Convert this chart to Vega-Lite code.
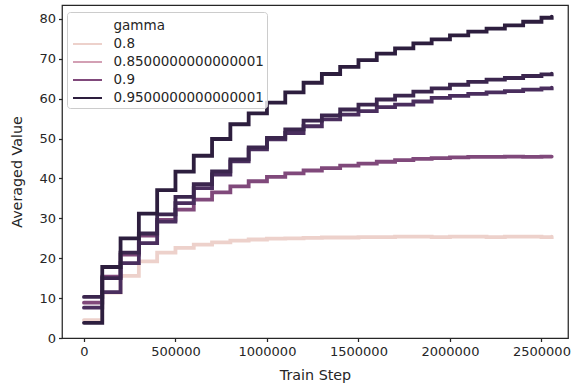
{
  "$schema": "https://vega.github.io/schema/vega-lite/v6.json",
  "autosize": "none",
  "width": 506,
  "height": 333,
  "padding": {"left": 62, "top": 5, "right": 3, "bottom": 49},
  "background": "white",
  "config": {
    "font": "DejaVu Sans",
    "view": {"stroke": "#262626", "strokeWidth": 1.25},
    "axis": {
      "domain": false, "grid": false, "tickColor": "#262626", "tickSize": 3.5, "tickWidth": 1.25,
      "labelColor": "#262626", "labelFontSize": 13, "labelPadding": 3, "titleColor": "#262626",
      "titleFontSize": 14.3, "titleFontWeight": "normal", "labelFont": "DejaVu Sans", "titleFont": "DejaVu Sans"
    }
  },
  "data": {
    "values": [
      {"gamma": 0.8, "step": 0, "value": 4.5}, {"gamma": 0.8, "step": 100000, "value": 11.4}, {"gamma": 0.8, "step": 200000, "value": 15.6}, {"gamma": 0.8, "step": 300000, "value": 19.2}, {"gamma": 0.8, "step": 400000, "value": 21.4}, {"gamma": 0.8, "step": 500000, "value": 22.6}, {"gamma": 0.8, "step": 600000, "value": 23.4}, {"gamma": 0.8, "step": 700000, "value": 24.0}, {"gamma": 0.8, "step": 800000, "value": 24.4}, {"gamma": 0.8, "step": 900000, "value": 24.7}, {"gamma": 0.8, "step": 1000000, "value": 24.9}, {"gamma": 0.8, "step": 1100000, "value": 25.0}, {"gamma": 0.8, "step": 1200000, "value": 25.1}, {"gamma": 0.8, "step": 1300000, "value": 25.2}, {"gamma": 0.8, "step": 1400000, "value": 25.2}, {"gamma": 0.8, "step": 1500000, "value": 25.3}, {"gamma": 0.8, "step": 1600000, "value": 25.3}, {"gamma": 0.8, "step": 1700000, "value": 25.4}, {"gamma": 0.8, "step": 1800000, "value": 25.4}, {"gamma": 0.8, "step": 1900000, "value": 25.3}, {"gamma": 0.8, "step": 2000000, "value": 25.4}, {"gamma": 0.8, "step": 2100000, "value": 25.4}, {"gamma": 0.8, "step": 2200000, "value": 25.3}, {"gamma": 0.8, "step": 2300000, "value": 25.4}, {"gamma": 0.8, "step": 2400000, "value": 25.4}, {"gamma": 0.8, "step": 2500000, "value": 25.3}, {"gamma": 0.8, "step": 2556000, "value": 25.4},
      {"gamma": 0.9, "step": 0, "value": 8.85}, {"gamma": 0.9, "step": 100000, "value": 15.4}, {"gamma": 0.9, "step": 200000, "value": 20.9}, {"gamma": 0.9, "step": 300000, "value": 25.7}, {"gamma": 0.9, "step": 400000, "value": 29.6}, {"gamma": 0.9, "step": 500000, "value": 32.2}, {"gamma": 0.9, "step": 600000, "value": 34.7}, {"gamma": 0.9, "step": 700000, "value": 36.5}, {"gamma": 0.9, "step": 800000, "value": 38.0}, {"gamma": 0.9, "step": 900000, "value": 39.3}, {"gamma": 0.9, "step": 1000000, "value": 40.4}, {"gamma": 0.9, "step": 1100000, "value": 41.3}, {"gamma": 0.9, "step": 1200000, "value": 42.0}, {"gamma": 0.9, "step": 1300000, "value": 42.6}, {"gamma": 0.9, "step": 1400000, "value": 43.2}, {"gamma": 0.9, "step": 1500000, "value": 43.7}, {"gamma": 0.9, "step": 1600000, "value": 44.2}, {"gamma": 0.9, "step": 1700000, "value": 44.6}, {"gamma": 0.9, "step": 1800000, "value": 44.9}, {"gamma": 0.9, "step": 1900000, "value": 45.1}, {"gamma": 0.9, "step": 2000000, "value": 45.3}, {"gamma": 0.9, "step": 2100000, "value": 45.4}, {"gamma": 0.9, "step": 2200000, "value": 45.4}, {"gamma": 0.9, "step": 2300000, "value": 45.5}, {"gamma": 0.9, "step": 2400000, "value": 45.4}, {"gamma": 0.9, "step": 2500000, "value": 45.5}, {"gamma": 0.9, "step": 2556000, "value": 45.5},
      {"gamma": 0.93, "step": 0, "value": 7.6}, {"gamma": 0.93, "step": 100000, "value": 11.5}, {"gamma": 0.93, "step": 200000, "value": 18.8}, {"gamma": 0.93, "step": 300000, "value": 23.8}, {"gamma": 0.93, "step": 400000, "value": 29.2}, {"gamma": 0.93, "step": 500000, "value": 33.8}, {"gamma": 0.93, "step": 600000, "value": 37.6}, {"gamma": 0.93, "step": 700000, "value": 41.0}, {"gamma": 0.93, "step": 800000, "value": 44.3}, {"gamma": 0.93, "step": 900000, "value": 47.3}, {"gamma": 0.93, "step": 1000000, "value": 49.8}, {"gamma": 0.93, "step": 1100000, "value": 51.4}, {"gamma": 0.93, "step": 1200000, "value": 53.1}, {"gamma": 0.93, "step": 1300000, "value": 54.8}, {"gamma": 0.93, "step": 1400000, "value": 56.0}, {"gamma": 0.93, "step": 1500000, "value": 56.9}, {"gamma": 0.93, "step": 1600000, "value": 57.9}, {"gamma": 0.93, "step": 1700000, "value": 58.5}, {"gamma": 0.93, "step": 1800000, "value": 59.3}, {"gamma": 0.93, "step": 1900000, "value": 60.2}, {"gamma": 0.93, "step": 2000000, "value": 60.7}, {"gamma": 0.93, "step": 2100000, "value": 61.2}, {"gamma": 0.93, "step": 2200000, "value": 61.6}, {"gamma": 0.93, "step": 2300000, "value": 61.9}, {"gamma": 0.93, "step": 2400000, "value": 62.3}, {"gamma": 0.93, "step": 2500000, "value": 62.6}, {"gamma": 0.93, "step": 2556000, "value": 62.8},
      {"gamma": 0.94, "step": 0, "value": 10.3}, {"gamma": 0.94, "step": 100000, "value": 15.0}, {"gamma": 0.94, "step": 200000, "value": 21.4}, {"gamma": 0.94, "step": 300000, "value": 26.2}, {"gamma": 0.94, "step": 400000, "value": 31.0}, {"gamma": 0.94, "step": 500000, "value": 35.4}, {"gamma": 0.94, "step": 600000, "value": 38.6}, {"gamma": 0.94, "step": 700000, "value": 41.8}, {"gamma": 0.94, "step": 800000, "value": 44.8}, {"gamma": 0.94, "step": 900000, "value": 47.8}, {"gamma": 0.94, "step": 1000000, "value": 50.2}, {"gamma": 0.94, "step": 1100000, "value": 52.3}, {"gamma": 0.94, "step": 1200000, "value": 54.5}, {"gamma": 0.94, "step": 1300000, "value": 55.8}, {"gamma": 0.94, "step": 1400000, "value": 57.3}, {"gamma": 0.94, "step": 1500000, "value": 58.5}, {"gamma": 0.94, "step": 1600000, "value": 59.8}, {"gamma": 0.94, "step": 1700000, "value": 60.8}, {"gamma": 0.94, "step": 1800000, "value": 61.8}, {"gamma": 0.94, "step": 1900000, "value": 62.6}, {"gamma": 0.94, "step": 2000000, "value": 63.5}, {"gamma": 0.94, "step": 2100000, "value": 64.2}, {"gamma": 0.94, "step": 2200000, "value": 64.8}, {"gamma": 0.94, "step": 2300000, "value": 65.2}, {"gamma": 0.94, "step": 2400000, "value": 65.7}, {"gamma": 0.94, "step": 2500000, "value": 66.1}, {"gamma": 0.94, "step": 2556000, "value": 66.3},
      {"gamma": 0.95, "step": 0, "value": 3.8}, {"gamma": 0.95, "step": 100000, "value": 17.8}, {"gamma": 0.95, "step": 200000, "value": 25.0}, {"gamma": 0.95, "step": 300000, "value": 31.2}, {"gamma": 0.95, "step": 400000, "value": 37.1}, {"gamma": 0.95, "step": 500000, "value": 41.7}, {"gamma": 0.95, "step": 600000, "value": 45.7}, {"gamma": 0.95, "step": 700000, "value": 49.9}, {"gamma": 0.95, "step": 800000, "value": 53.6}, {"gamma": 0.95, "step": 900000, "value": 56.3}, {"gamma": 0.95, "step": 1000000, "value": 59.0}, {"gamma": 0.95, "step": 1100000, "value": 61.6}, {"gamma": 0.95, "step": 1200000, "value": 64.0}, {"gamma": 0.95, "step": 1300000, "value": 66.2}, {"gamma": 0.95, "step": 1400000, "value": 68.0}, {"gamma": 0.95, "step": 1500000, "value": 69.7}, {"gamma": 0.95, "step": 1600000, "value": 71.3}, {"gamma": 0.95, "step": 1700000, "value": 72.6}, {"gamma": 0.95, "step": 1800000, "value": 73.9}, {"gamma": 0.95, "step": 1900000, "value": 74.9}, {"gamma": 0.95, "step": 2000000, "value": 75.9}, {"gamma": 0.95, "step": 2100000, "value": 76.8}, {"gamma": 0.95, "step": 2200000, "value": 77.6}, {"gamma": 0.95, "step": 2300000, "value": 78.4}, {"gamma": 0.95, "step": 2400000, "value": 79.3}, {"gamma": 0.95, "step": 2500000, "value": 80.3}, {"gamma": 0.95, "step": 2556000, "value": 80.6}
    ]
  },
  "mark": {"type": "line", "interpolate": "step-after", "strokeWidth": 3.8, "strokeCap": "round"},
  "encoding": {
    "x": {
      "field": "step", "type": "quantitative", "title": "Train Step",
      "scale": {"domain": [-120000, 2645000], "nice": false, "zero": false},
      "axis": {"values": [0, 500000, 1000000, 1500000, 2000000, 2500000], "format": "d", "labelPadding": 4, "titlePadding": 10}
    },
    "y": {
      "field": "value", "type": "quantitative", "title": "Averaged Value",
      "scale": {"domain": [0, 83.5], "nice": false, "zero": false},
      "axis": {"values": [0, 10, 20, 30, 40, 50, 60, 70, 80], "titlePadding": 14}
    },
    "color": {
      "field": "gamma", "type": "quantitative",
      "scale": {
        "domain": [0.8, 0.85, 0.9, 0.93, 0.95],
        "range": ["#edd1cb", "#d3a0b4", "#80497b", "#4a2e5e", "#2d1e3e"]
      },
      "legend": {
        "type": "symbol", "orient": "none", "legendX": 5, "legendY": 7, "title": null,
        "values": [0.75, 0.8, 0.85, 0.9, 0.95],
        "labelExpr": "datum.value < 0.79 ? 'gamma' : datum.value == 0.85 ? '0.8500000000000001' : datum.value == 0.95 ? '0.9500000000000001' : datum.value == 0.8 ? '0.8' : '0.9'",
        "symbolType": "M-1.49,0H1.49", "symbolStrokeWidth": 2, "symbolSize": 380, "symbolOffset": 6.5,
        "labelFontSize": 13.5, "labelFont": "DejaVu Sans", "labelColor": "#262626", "labelOffset": 15,
        "padding": 3, "strokeColor": "#cccccc", "fillColor": "rgba(255,255,255,0.8)", "cornerRadius": 3, "rowPadding": 0,
        "encode": {"symbols": {"update": {"opacity": {"signal": "datum.value < 0.79 ? 0 : 1"}}}}
      }
    }
  }
}
